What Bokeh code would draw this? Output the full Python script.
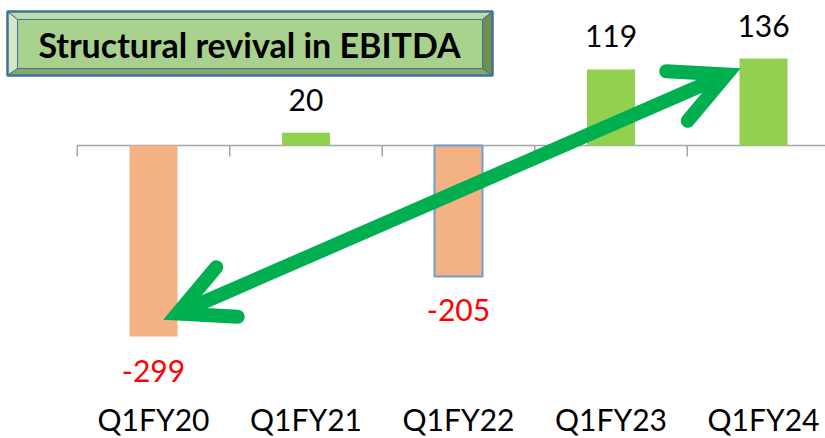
from bokeh.plotting import figure
from bokeh.models import Range1d, Arrow, OpenHead, ColumnDataSource
from bokeh.core.properties import value
from bokeh.embed import file_html
from bokeh.resources import INLINE

# ---- data ----
categories = ["Q1FY20", "Q1FY21", "Q1FY22", "Q1FY23", "Q1FY24"]
ebitda = [-299, 20, -205, 119, 136]
title_text = "Structural revival in EBITDA"

# ---- layout constants (page pixels) ----
W, H = 825, 438
CAT_PX = 152.5          # pixels per category
FIRST_CENTER = 153      # page x of first category centre
ZERO_Y = 145            # page y of value 0
PX_PER_UNIT = 0.639     # pixels per EBITDA unit
TXT_SHIFT = 12          # text baseline correction (px)


def dx(px):
    return (px - FIRST_CENTER) / CAT_PX


def dy(py):
    return (ZERO_Y - py) / PX_PER_UNIT


p = figure(width=W, height=H, output_backend="svg", toolbar_location=None,
           x_range=Range1d(dx(0), dx(W)), y_range=Range1d(dy(H), dy(0)),
           min_border=0)
p.axis.visible = False
p.grid.visible = False
p.outline_line_color = None
p.background_fill_color = "white"

xs = list(range(len(categories)))
pos_col, neg_col = "#92D050", "#F4B183"
colors = [pos_col if v >= 0 else neg_col for v in ebitda]
line_cols = ["#6A9FD6" if c == "Q1FY22" else None for c in categories]
src = ColumnDataSource(dict(x=xs, top=ebitda, cat=categories, color=colors,
                            lc=line_cols, lw=[2 if c == "Q1FY22" else 0 for c in categories],
                            lab=[str(v) for v in ebitda],
                            tc=["black" if v >= 0 else "#FF0000" for v in ebitda],
                            yoff=[(-21 if v >= 0 else 46) - TXT_SHIFT for v in ebitda]))

# zero axis line and boundary ticks
n = len(categories)
p.segment(x0=[-0.5], y0=[0], x1=[n - 0.5], y1=[0], line_color="#A6A6A6", line_width=1.5)
tick_len = 11 / PX_PER_UNIT
p.segment(x0=[i - 0.5 for i in range(n + 1)], y0=[0] * (n + 1),
          x1=[i - 0.5 for i in range(n + 1)], y1=[-tick_len] * (n + 1),
          line_color="#A6A6A6", line_width=1.5)

p.vbar(x="x", top="top", bottom=0, width=48 / CAT_PX, source=src,
       fill_color="color", line_color="lc", line_width="lw")

# value labels
p.text(x="x", y="top", text="lab", source=src, text_color="tc",
       text_font=value("Lato"), text_font_size="30px", text_align="center",
       text_baseline="alphabetic", y_offset="yoff")

# category labels along the bottom
p.text(x=xs, y=[dy(430 - TXT_SHIFT)] * n, text=categories, text_color="black",
       text_font=value("Lato"), text_font_size="30px", text_align="center",
       text_baseline="alphabetic")

# title box with bevel
L, T, R, B = 7, 11, 492, 75
iL, iT, iR, iB = 17, 19, 482, 68
bevels = [
    ([L, R, iR, iL], [T, T, iT, iT], "#BFDBA8"),
    ([L, iL, iL, L], [T, iT, iB, B], "#D4E8C7"),
    ([L, iL, iR, R], [B, iB, iB, B], "#86A86A"),
    ([R, iR, iR, R], [T, iT, iB, B], "#6F8F50"),
]
p.patches(xs=[[dx(v) for v in b[0]] for b in bevels],
          ys=[[dy(v) for v in b[1]] for b in bevels],
          fill_color=[b[2] for b in bevels], line_color="#41719C", line_width=1)
p.quad(left=[dx(iL)], right=[dx(iR)], top=[dy(iT)], bottom=[dy(iB)],
       fill_color="#A9D18E", line_color="#41719C", line_width=1)
p.quad(left=[dx(L)], right=[dx(R)], top=[dy(T)], bottom=[dy(B)],
       fill_color=None, line_color="#41719C", line_width=2.5)
p.text(x=[dx(249)], y=[dy(56 - TXT_SHIFT)], text=[title_text], text_color="black",
       text_font=value("Lato"), text_font_style="bold", text_font_size="34px",
       text_align="center", text_baseline="alphabetic")

# double-headed arrow
green = "#00B050"
head_kw = dict(size=54, line_color=green, line_width=14, line_cap="round", line_join="miter")
p.add_layout(Arrow(start=OpenHead(**head_kw), end=OpenHead(**head_kw),
                   x_start=dx(177), y_start=dy(313), x_end=dx(726), y_end=dy(74),
                   line_color=green, line_width=14))

open("out.html", "w").write(file_html(p, INLINE))
